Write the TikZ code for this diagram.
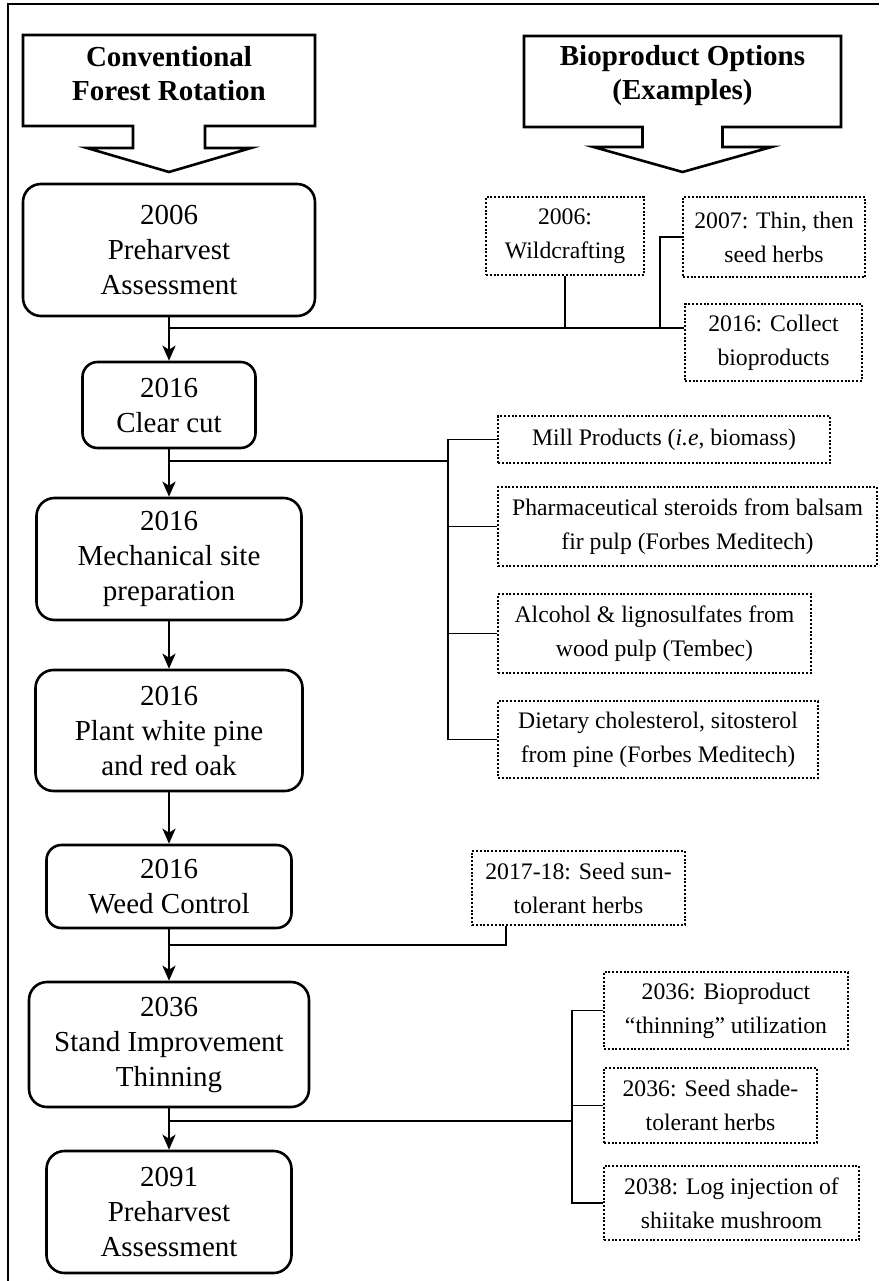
\documentclass[tikz,border=0pt]{standalone}
\usepackage{fontspec}
\setmainfont{Liberation Serif}
\usetikzlibrary{arrows.meta,calc}
\begin{document}
\begin{tikzpicture}[x=1pt,y=-1pt,
  mainbox/.style={draw, line width=2.6pt, rounded corners=18pt, align=center, inner sep=0pt, font=\fontsize{29}{35}\selectfont},
  optbox/.style={draw, line width=2.3pt, dash pattern=on 2pt off 1.8pt, align=center, inner sep=0pt, font=\fontsize{23.7}{34}\selectfont},
  flow/.style={line width=2.6pt, -{Stealth[length=15pt,width=13pt,inset=4pt]}},
  branch/.style={line width=1.6pt},
  hdr/.style={line width=2.6pt, line join=miter},
  hdrtext/.style={align=center, inner sep=0pt, font=\fontsize{29}{34}\selectfont\bfseries}]
\useasboundingbox (0,0) rectangle (879,1281);
% outer frame (only top and left edges visible)
\draw[line width=2pt] (8,1281) -- (8,4) -- (879,4);

% header arrows
\draw[hdr] (23,35) -- (315,35) -- (315,126) -- (205,126) -- (205,148) -- (251,148) -- (169,172) -- (87,148) -- (133,148) -- (133,126) -- (23,126) -- cycle;
\node[hdrtext] (hl) at (169,74) {Conventional\\Forest Rotation};
\draw[hdr] (524,36) -- (841,36) -- (841,127) -- (722.5,127) -- (722.5,147) -- (771.5,147) -- (682.5,172) -- (593.5,147) -- (642.5,147) -- (642.5,127) -- (524,127) -- cycle;
\node[hdrtext] (hr) at (682.5,76) {Bioproduct Options\\(Examples)};

% main column
\node[mainbox, minimum width=292pt, minimum height=132pt] (n1) at (169,250) {2006\\Preharvest\\Assessment};
\node[mainbox, minimum width=173pt, minimum height=86pt, rounded corners=15pt] (n2) at (169,405) {2016\\Clear cut};
\node[mainbox, minimum width=265pt, minimum height=122pt] (n3) at (169,559) {2016\\Mechanical site\\preparation};
\node[mainbox, minimum width=267pt, minimum height=121pt] (n4) at (169,730.5) {2016\\Plant white pine\\and red oak};
\node[mainbox, minimum width=245pt, minimum height=83pt, rounded corners=15pt] (n5) at (169,886.5) {2016\\Weed Control};
\node[mainbox, minimum width=280pt, minimum height=125pt] (n6) at (169,1044.5) {2036\\Stand Improvement\\Thinning};
\node[mainbox, minimum width=245pt, minimum height=122pt] (n7) at (169,1212) {2091\\Preharvest\\Assessment};

% option boxes
\node[optbox, minimum width=158pt, minimum height=78pt] (wild) at (565,236) {2006:\\Wildcrafting};
\node[optbox, minimum width=182pt, minimum height=80pt] (thin) at (774,237) {2007: Thin, then\\seed herbs};
\node[optbox, minimum width=177pt, minimum height=77pt] (coll) at (773.5,342.5) {2016: Collect\\bioproducts};
\node[optbox, minimum width=332pt, minimum height=47pt] (mill) at (664,439.5) {Mill Products (\textit{i.e}, biomass)};
\node[optbox, minimum width=379pt, minimum height=79pt] (pharm) at (687.5,526.5) {Pharmaceutical steroids from balsam\\fir pulp (Forbes Meditech)};
\node[optbox, minimum width=313pt, minimum height=79pt] (alc) at (654.5,633.5) {Alcohol \& lignosulfates from\\wood pulp (Tembec)};
\node[optbox, minimum width=320pt, minimum height=77pt] (diet) at (658,739.5) {Dietary cholesterol, sitosterol\\from pine (Forbes Meditech)};
\node[optbox, minimum width=213pt, minimum height=74pt] (sun) at (578.5,888) {2017-18: Seed sun-\\tolerant herbs};
\node[optbox, minimum width=244pt, minimum height=77pt] (bio) at (726,1010.5) {2036: Bioproduct\\“thinning” utilization};
\node[optbox, minimum width=213pt, minimum height=75pt] (shade) at (710.5,1105.5) {2036: Seed shade-\\tolerant herbs};
\node[optbox, minimum width=255pt, minimum height=74pt] (log) at (731.5,1203) {2038: Log injection of\\shiitake mushroom};

% junction coordinates
\coordinate (j1) at (169,328);
\coordinate (t1) at (660,328);
\coordinate (j2) at (169,461);
\coordinate (b2) at (448,461);
\coordinate (j3) at (169,945);
\coordinate (s3) at (506,945);
\coordinate (j4) at (169,1121);
\coordinate (b4) at (572,1121);

% branch lines
\draw[branch] (j1) -- (j1 -| coll.west);
\draw[branch] (wild.south) -- (wild.south |- j1);
\draw[branch] (thin.west) -| (t1);
\draw[branch] (j2) -- (b2);
\draw[branch] (mill.west) -| (b2);
\draw[branch] (pharm.west) -| (b2);
\draw[branch] (alc.west) -| (b2);
\draw[branch] (diet.west) -| (b2);
\draw[branch] (j3) -- (s3) -- (s3 |- sun.south);
\draw[branch] (j4) -- (b4);
\draw[branch] (bio.west) -| (b4);
\draw[branch] (shade.west) -| (b4);
\draw[branch] (log.west) -| (b4);

% main flow arrows
\draw[flow] (n1) -- (n2);
\draw[flow] (n2) -- (n3);
\draw[flow] (n3) -- (n4);
\draw[flow] (n4) -- (n5);
\draw[flow] (n5) -- (n6);
\draw[flow] (n6) -- (n7);
\end{tikzpicture}
\end{document}
